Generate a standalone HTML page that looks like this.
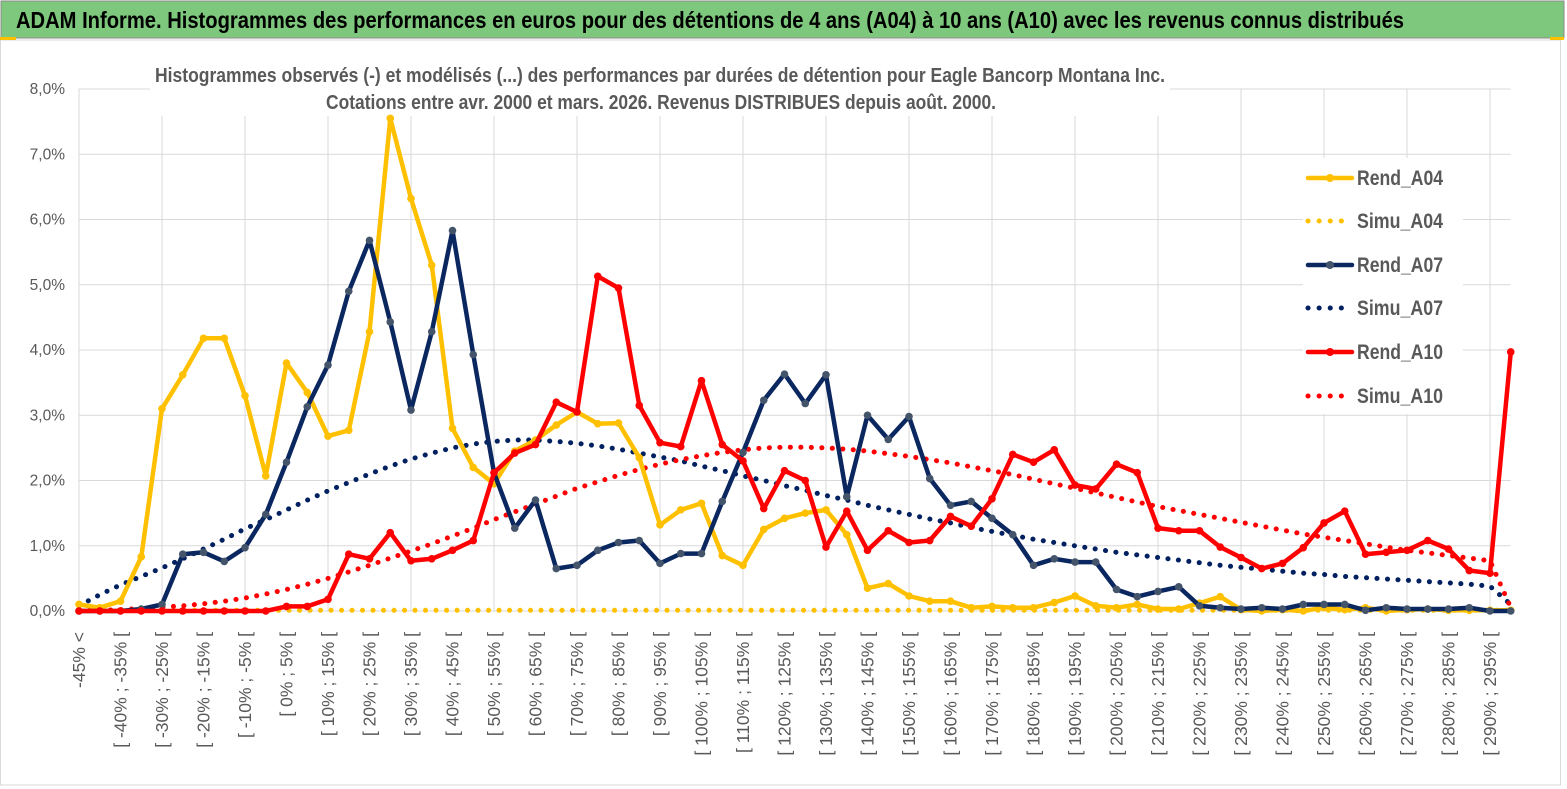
<!DOCTYPE html>
<html><head><meta charset="utf-8"><style>
html,body{margin:0;padding:0;background:#fff;}
svg{display:block;font-family:"Liberation Sans Narrow","Liberation Sans",sans-serif;}
</style></head><body>
<svg id="chart" width="1567" height="789" viewBox="0 0 1567 789">
<rect x="0" y="0" width="1567" height="789" fill="#fff"/>
<rect x="1" y="1" width="1563" height="37" fill="#7dc87c" stroke="#8a8a8a" stroke-width="1"/>
<text x="16" y="28" font-size="23" font-weight="bold" fill="#000" textLength="1388" lengthAdjust="spacingAndGlyphs">ADAM Informe. Histogrammes des performances en euros pour des détentions de 4 ans (A04) à 10 ans (A10) avec les revenus connus distribués</text>
<rect x="0.5" y="40" width="1560" height="745" fill="none" stroke="#d9d9d9"/>
<rect x="0" y="37" width="16" height="3" fill="#ffc000"/>
<rect x="1550" y="37" width="14" height="3" fill="#ffc000"/>
<g id="grid"></g>
<g id="yticks"></g>
<g id="xticks"></g>
<rect x="150" y="58" width="1020" height="58" fill="#fff"/>
<text x="660" y="82" font-size="20" font-weight="bold" fill="#595959" text-anchor="middle" textLength="1010" lengthAdjust="spacingAndGlyphs">Histogrammes observés (-) et modélisés (...) des performances par durées de détention pour Eagle Bancorp Montana Inc.</text>
<text x="661" y="109" font-size="20" font-weight="bold" fill="#595959" text-anchor="middle" textLength="670" lengthAdjust="spacingAndGlyphs">Cotations entre avr. 2000 et mars. 2026. Revenus DISTRIBUES depuis août. 2000.</text>
<rect x="1303" y="158" width="160" height="256" fill="#fff"/>
<g id="series"></g>
<g id="legend"></g>
</svg>
<script>
const categories = [];
const catCount = 70;
const rendA04 = [0.1,0.05,0.15,0.83,3.1,3.62,4.18,4.18,3.3,2.07,3.8,3.35,2.68,2.77,4.28,7.55,6.32,5.3,2.8,2.2,1.95,2.45,2.62,2.85,3.05,2.87,2.88,2.35,1.32,1.55,1.65,0.85,0.7,1.25,1.42,1.5,1.55,1.17,0.35,0.42,0.23,0.15,0.15,0.05,0.07,0.05,0.05,0.13,0.23,0.08,0.05,0.1,0.03,0.03,0.12,0.22,0.02,0,0.02,0,0.05,0.02,0.05,0,0.02,0.03,0.01,0.01,0.01,0.01];
const simuA04 = [0.01,0.01,0.01,0.01,0.01,0.01,0.01,0.01,0.01,0.01,0.01,0.01,0.01,0.01,0.01,0.01,0.01,0.01,0.01,0.01,0.01,0.01,0.01,0.01,0.01,0.01,0.01,0.01,0.01,0.01,0.01,0.01,0.01,0.01,0.01,0.01,0.01,0.01,0.01,0.01,0.01,0.01,0.01,0.01,0.01,0.01,0.01,0.01,0.01,0.01,0.01,0.01,0.01,0.01,0.01,0.01,0.01,0.01,0.01,0.01,0.01,0.01,0.01,0.01,0.01,0.01,0.01,0.01,0.01,0.01];
const rendA07 = [0,0,0,0.03,0.1,0.87,0.9,0.76,0.97,1.48,2.28,3.13,3.77,4.9,5.68,4.43,3.08,4.28,5.83,3.93,2.12,1.27,1.7,0.65,0.7,0.93,1.05,1.08,0.73,0.88,0.88,1.68,2.43,3.23,3.63,3.18,3.62,1.75,3.0,2.63,2.98,2.03,1.62,1.68,1.42,1.17,0.7,0.8,0.75,0.75,0.33,0.22,0.3,0.37,0.08,0.05,0.03,0.05,0.03,0.1,0.1,0.1,0.01,0.05,0.03,0.03,0.03,0.05,0,0];
const simuA07 = [0.08,0.25,0.4,0.53,0.66,0.8,0.95,1.1,1.26,1.4,1.55,1.7,1.84,1.97,2.1,2.22,2.33,2.42,2.5,2.56,2.6,2.62,2.62,2.6,2.57,2.53,2.48,2.42,2.36,2.3,2.22,2.15,2.07,2.0,1.92,1.85,1.77,1.7,1.62,1.55,1.48,1.41,1.35,1.28,1.22,1.16,1.1,1.05,1.0,0.95,0.9,0.86,0.82,0.78,0.74,0.7,0.67,0.64,0.61,0.58,0.56,0.53,0.51,0.49,0.47,0.45,0.43,0.41,0.38,0.1];
const rendA10 = [0,0,0,0,0,0,0,0,0,0,0.07,0.07,0.18,0.87,0.8,1.2,0.77,0.8,0.93,1.08,2.12,2.42,2.55,3.2,3.05,5.13,4.95,3.15,2.58,2.52,3.53,2.55,2.3,1.57,2.15,2.0,0.98,1.53,0.93,1.23,1.05,1.08,1.45,1.3,1.72,2.4,2.28,2.47,1.93,1.87,2.25,2.12,1.27,1.23,1.23,0.98,0.82,0.65,0.73,0.97,1.35,1.53,0.87,0.9,0.93,1.08,0.95,0.62,0.58,3.97];
const simuA10 = [0,0.01,0.02,0.04,0.06,0.08,0.11,0.15,0.2,0.26,0.33,0.41,0.5,0.6,0.7,0.81,0.92,1.03,1.15,1.27,1.4,1.52,1.64,1.76,1.88,1.98,2.08,2.17,2.25,2.32,2.38,2.43,2.47,2.5,2.51,2.51,2.5,2.48,2.45,2.41,2.37,2.32,2.27,2.21,2.15,2.09,2.02,1.95,1.88,1.81,1.74,1.67,1.6,1.54,1.48,1.42,1.36,1.3,1.24,1.18,1.13,1.08,1.03,0.98,0.93,0.89,0.85,0.81,0.77,0.05];
const yTickValues = [0,1,2,3,4,5,6,7,8];
const yTickLabels = ["0,0%","1,0%","2,0%","3,0%","4,0%","5,0%","6,0%","7,0%","8,0%"];
const legendLabels = ["Rend_A04","Simu_A04","Rend_A07","Simu_A07","Rend_A10","Simu_A10"];

categories.push("-45% <");
for (let k = 1; k < catCount; k++) { const a = -45 + 5*(k-1); categories.push("[ " + a + "% ; " + (a+5) + "% ["); }

const NS = "http://www.w3.org/2000/svg";
const X0 = 79, DX = 20.75, Y0 = 611, YS = 65.25;
const xs = i => X0 + DX*i;
const ys = v => Y0 - v*YS;
function mk(tag, attrs, parent){ const e=document.createElementNS(NS,tag); for(const k in attrs) e.setAttribute(k,attrs[k]); parent.appendChild(e); return e; }

const grid = document.getElementById('grid');
const xRight = xs(catCount-1);
yTickValues.forEach(v => {
  const l = mk('line',{x1:X0,x2:xRight,y1:ys(v),y2:ys(v),stroke:'#d9d9d9','stroke-width':1},grid);
  
  
});
for (let i = 0; i < catCount; i += 4) {
  const l = mk('line',{x1:xs(i),x2:xs(i),y1:ys(8),y2:Y0,stroke:'#d9d9d9','stroke-width':1},grid);
  
  
}
const yt = document.getElementById('yticks');
yTickValues.forEach((v,j) => {
  const t = mk('text',{x:65,y:ys(v)+5,'font-size':15.5,fill:'#595959','text-anchor':'end'},yt);
  t.textContent = yTickLabels[j];
  
  
});
const xt = document.getElementById('xticks');
for (let i = 0; i < catCount; i += 2) {
  if (i > 68) break;
  const x = xs(i) + 6, y = 632;
  const t = mk('text',{x:x,y:y,'font-size':17.5,fill:'#595959','text-anchor':'end',transform:'rotate(-90 '+x+' '+y+')'},xt);
  t.textContent = categories[i];
  
  
}

const series = document.getElementById('series');
function drawSolid(data, color, mColor, name){
  const g = mk('g',{},series);
  
  
  const pts = data.map((v,i)=>xs(i).toFixed(1)+','+ys(v).toFixed(1)).join(' ');
  const pl = mk('polyline',{points:pts,fill:'none',stroke:color,'stroke-width':4.5,'stroke-linejoin':'round'},g);
  
  
  data.forEach((v,i)=>{
    const c = mk('circle',{cx:xs(i),cy:ys(v),r:3.8,fill:mColor},g);
    
    
  });
}
function drawDotted(data, color, name){
  const pts = data.map((v,i)=>xs(i).toFixed(1)+','+ys(v).toFixed(1)).join(' ');
  const pl = mk('polyline',{points:pts,fill:'none',stroke:color,'stroke-width':5,'stroke-linecap':'round','stroke-dasharray':'0.1 10.4'},series);
  
  
}
drawDotted(simuA04,'#ffc000','simu-a04-line');
drawDotted(simuA07,'#002060','simu-a07-line');
drawDotted(simuA10,'#ff0000','simu-a10-line');
drawSolid(rendA04,'#ffc000','#ffc000','rend-a04-series');
drawSolid(rendA07,'#0b2760','#44546a','rend-a07-series');
drawSolid(rendA10,'#ff0000','#ff0000','rend-a10-series');

const lg = document.getElementById('legend');
const lColors = ['#ffc000','#ffc000','#0b2760','#002060','#ff0000','#ff0000'];
const lMark = ['#ffc000',null,'#44546a',null,'#ff0000',null];
const lY = [178,221,265,308,352,396];
legendLabels.forEach((lab,j)=>{
  const y = lY[j];
  const g = mk('g',{},lg);
  
  
  if (lMark[j]) {
    mk('line',{x1:1308,x2:1352,y1:y,y2:y,stroke:lColors[j],'stroke-width':4.5,'stroke-linecap':'round'},g);
    mk('circle',{cx:1330,cy:y,r:4,fill:lMark[j]},g);
  } else {
    mk('line',{x1:1308,x2:1352,y1:y,y2:y,stroke:lColors[j],'stroke-width':5,'stroke-linecap':'round','stroke-dasharray':'0.1 11'},g);
  }
  const t = mk('text',{x:1357,y:y+7,'font-size':21,'font-weight':'bold',fill:'#595959',textLength:86,lengthAdjust:'spacingAndGlyphs'},g);
  t.textContent = lab;
});
</script>
</body></html>
